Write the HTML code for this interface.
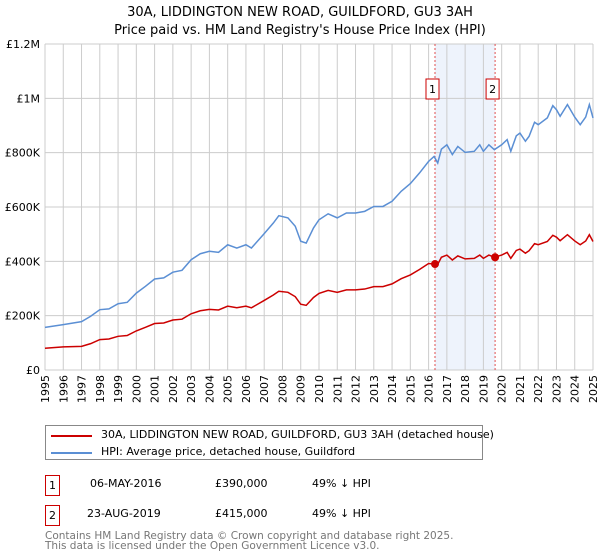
<!DOCTYPE html>
<html><head><meta charset="utf-8"><style>
body{margin:0;background:#fff;font-family:"DejaVu Sans","Liberation Sans",sans-serif;}
#wrap{position:relative;width:600px;height:560px;overflow:hidden}
.t{position:absolute;font-size:12px;color:#000;white-space:nowrap}
</style></head><body><div id="wrap">
<div class="t" style="left:0;width:600px;text-align:center;top:5px;font-size:13px">30A, LIDDINGTON NEW ROAD, GUILDFORD, GU3 3AH</div>
<div class="t" style="left:0;width:600px;text-align:center;top:23px;font-size:13px">Price paid vs. HM Land Registry's House Price Index (HPI)</div>
<svg id="chart" width="600" height="420" style="position:absolute;left:0;top:0"></svg>
<div style="position:absolute;left:45px;top:425px;width:438px;height:35px;border:1px solid #888;box-sizing:border-box">
<div style="position:absolute;left:5px;top:9px;width:41px;height:2px;background:#cc0000"></div>
<div class="t" style="left:55px;top:2px;font-size:11px">30A, LIDDINGTON NEW ROAD, GUILDFORD, GU3 3AH (detached house)</div>
<div style="position:absolute;left:5px;top:26px;width:41px;height:2px;background:#5b8fd4"></div>
<div class="t" style="left:55px;top:19px;font-size:11px">HPI: Average price, detached house, Guildford</div>
</div>
<div>
<div class="t" style="left:45px;top:475px;border:1px solid #cc0000;text-align:center;line-height:19px;font-size:11px;box-sizing:border-box;width:15px;height:21px">1</div>
<div class="t" style="left:90px;top:477px;font-size:11px">06-MAY-2016</div>
<div class="t" style="left:215px;top:477px;font-size:11px">£390,000</div>
<div class="t" style="left:312px;top:477px;font-size:11px">49% ↓ HPI</div>
</div>
<div>
<div class="t" style="left:45px;top:505px;border:1px solid #cc0000;text-align:center;line-height:19px;font-size:11px;box-sizing:border-box;width:15px;height:21px">2</div>
<div class="t" style="left:87px;top:507px;font-size:11px">23-AUG-2019</div>
<div class="t" style="left:215px;top:507px;font-size:11px">£415,000</div>
<div class="t" style="left:312px;top:507px;font-size:11px">49% ↓ HPI</div>
</div>
<div class="t" style="left:45px;top:531px;font-size:10.5px;color:#777;line-height:10px">Contains HM Land Registry data © Crown copyright and database right 2025.<br>This data is licensed under the Open Government Licence v3.0.</div>
</div>
<script>
const hpiYears=[1995,1996,1997,1997.5,1998,1998.5,1999,1999.5,2000,2000.5,2001,2001.5,2002,2002.5,2003,2003.5,2004,2004.5,2005,2005.5,2006,2006.3,2007,2007.5,2007.8,2008.3,2008.7,2009,2009.3,2009.7,2010,2010.5,2011,2011.5,2012,2012.5,2013,2013.5,2014,2014.5,2015,2015.5,2016,2016.3,2016.5,2016.7,2017,2017.3,2017.6,2018,2018.5,2018.8,2019,2019.3,2019.6,2020,2020.3,2020.5,2020.8,2021,2021.3,2021.5,2021.8,2022,2022.5,2022.8,2023,2023.2,2023.6,2024,2024.3,2024.6,2024.8,2025];
const hpiValues=[157,167,178,198,222,225,244,249,283,308,335,339,360,367,406,428,437,433,461,449,461,449,502,541,568,560,529,474,467,523,553,575,560,578,578,584,602,602,621,658,686,725,768,786,762,813,829,793,823,801,805,829,805,829,811,829,848,805,862,872,842,860,912,903,928,973,958,934,977,931,903,931,977,928];
const priceValues=[80,85,87,97,112,114,124,127,144,157,171,173,184,187,207,218,223,221,235,229,235,229,256,276,290,286,270,242,238,267,282,293,286,295,295,298,307,307,317,336,350,370,392,390,389,415,423,405,420,409,411,423,411,423,415,423,433,411,440,445,430,439,465,461,473,496,489,476,498,475,461,475,498,473];
const saleYears=[2016.35,2019.64];
const saleValues=[390,415];
const yTicks=[0,200,400,600,800,1000,1200];
const yTickLabels=["£0","£200K","£400K","£600K","£800K","£1M","£1.2M"];
const xTicks=[1995,1996,1997,1998,1999,2000,2001,2002,2003,2004,2005,2006,2007,2008,2009,2010,2011,2012,2013,2014,2015,2016,2017,2018,2019,2020,2021,2022,2023,2024,2025];
const X0=45,X1=593,Y0=370,Y1=44;
const x=v=>X0+(v-1995)/30*(X1-X0);
const y=v=>Y0-v/1200*(Y0-Y1);
const svg=document.getElementById('chart');const NS='http://www.w3.org/2000/svg';
function mk(t,a){const e=document.createElementNS(NS,t);for(const k in a)e.setAttribute(k,a[k]);svg.appendChild(e);return e;}
let e=mk('rect',{x:x(saleYears[0]),y:Y1,width:x(saleYears[1])-x(saleYears[0]),height:Y0-Y1,fill:'#eef3fc'});


xTicks.forEach(t=>{const g=mk('line',{x1:x(t),x2:x(t),y1:Y1,y2:Y0,stroke:'#ccc','stroke-width':1});


const l=mk('text',{x:0,y:0,'font-size':11,'text-anchor':'end',transform:`translate(${x(t)+4},${Y0+5}) rotate(-90)`,'font-family':'DejaVu Sans, Liberation Sans, sans-serif'});l.textContent=t;

});
yTicks.forEach((t,i)=>{const g=mk('line',{x1:X0,x2:X1,y1:y(t),y2:y(t),stroke:'#ccc','stroke-width':1});


const l=mk('text',{x:X0-5,y:y(t)+4,'font-size':11,'text-anchor':'end','font-family':'DejaVu Sans, Liberation Sans, sans-serif'});l.textContent=yTickLabels[i];

});
saleYears.forEach((s,i)=>{const d=mk('line',{x1:x(s),x2:x(s),y1:Y1,y2:Y0,stroke:'#e05050','stroke-width':1,'stroke-dasharray':'2,2'});


const b=mk('rect',{x:x(s)-9,y:79,width:13,height:20,fill:'#fff',stroke:'#cc0000'});


const tx=mk('text',{x:x(s)-2.5,y:93,'font-size':11,'text-anchor':'middle','font-family':'DejaVu Sans, sans-serif'});tx.textContent=i+1;

});
const pts=(ys,vs)=>ys.map((t,i)=>x(t)+','+y(vs[i])).join(' ');
const h=mk('polyline',{points:pts(hpiYears,hpiValues),fill:'none',stroke:'#5b8fd4','stroke-width':1.5});


const p=mk('polyline',{points:pts(hpiYears,priceValues),fill:'none',stroke:'#cc0000','stroke-width':1.5});


saleYears.forEach((s,i)=>{const c=mk('circle',{cx:x(s),cy:y(saleValues[i]),r:4,fill:'#cc0000'});

});
</script></body></html>
